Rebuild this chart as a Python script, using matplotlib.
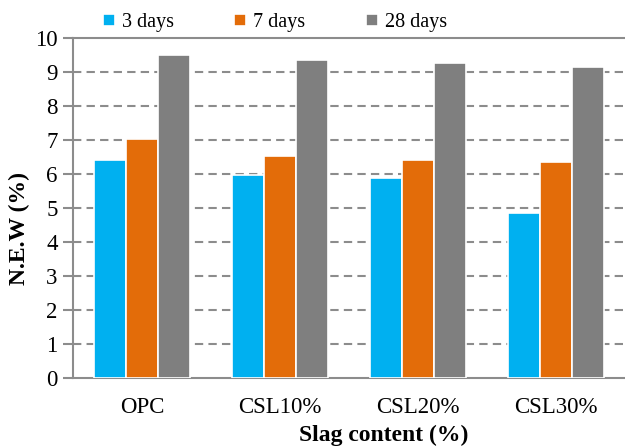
import numpy as np
import matplotlib
matplotlib.use('Agg')
import matplotlib.pyplot as plt

categories = ['OPC', 'CSL10%', 'CSL20%', 'CSL30%']
series_names = ['3 days', '7 days', '28 days']
days3 = [6.40, 5.97, 5.89, 4.85]
days7 = [7.02, 6.54, 6.40, 6.36]
days28 = [9.49, 9.34, 9.27, 9.16]
colors = ['#00B0F0', '#E36C09', '#7F7F7F']

plt.rcParams['font.family'] = ['Liberation Serif', 'DejaVu Serif']

fig = plt.figure(figsize=(6.25, 4.47), dpi=100)
ax = fig.add_axes([73 / 625, 1 - 378 / 447, 1 - 73 / 625, (378 - 38) / 447])

x = np.arange(len(categories))
w = 0.232
for i, (vals, name) in enumerate(zip([days3, days7, days28], series_names)):
    ax.bar(x + (i - 1) * w, vals, width=w, color=colors[i], edgecolor='white',
           linewidth=1.2, label=name, zorder=3)

# dashed gridlines, top one is the solid spine
for yv in range(1, 10):
    ax.axhline(yv, color='#8C8C8C', linewidth=1.5, linestyle=(0, (4, 2.5)), zorder=1)

ax.set_xlim(-0.5, 3.5)
ax.set_ylim(0, 10)
ax.set_yticks(range(0, 11))
ax.set_xticks(x)
ax.set_xticklabels(categories)
ax.tick_params(axis='y', length=7, width=1.5, color='#8C8C8C', labelsize=16.5, pad=4)
ax.tick_params(axis='x', length=0, labelsize=16.5, pad=14)

for side in ['left', 'bottom', 'top']:
    ax.spines[side].set_color('#8C8C8C')
    ax.spines[side].set_linewidth(1.5)
ax.spines['right'].set_visible(False)

ax.set_ylabel('N.E.W (%)', fontsize=17, fontweight='bold')
ax.yaxis.set_label_coords(-0.078, 0.44)
ax.set_xlabel('Slag content (%)', fontsize=17, fontweight='bold')
ax.xaxis.set_label_coords(0.563, -0.137)

ax.legend(ncol=3, loc='center', bbox_to_anchor=(0.366, 1.045), frameon=False,
          prop={'family': 'Liberation Serif', 'size': 14.5},
          handlelength=0.6, handleheight=0.6, handletextpad=0.35,
          columnspacing=3.0, borderaxespad=0)

fig.savefig('out.png', dpi=100)
